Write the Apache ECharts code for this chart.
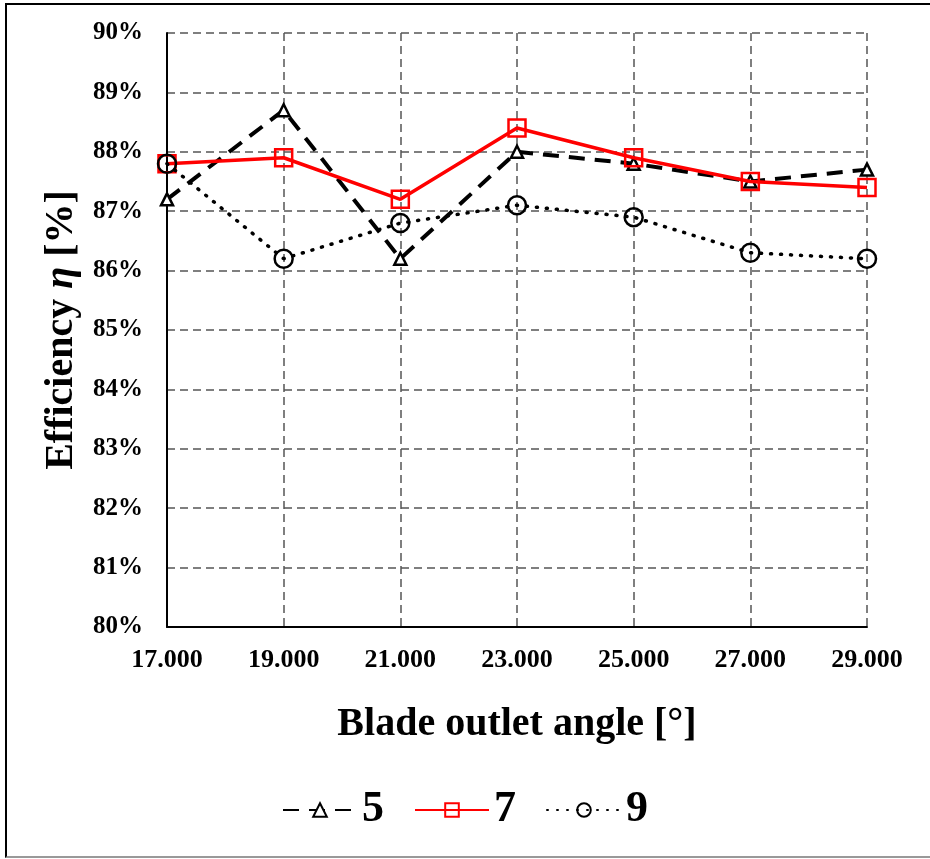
<!DOCTYPE html>
<html>
<head>
<meta charset="utf-8">
<script src="https://cdn.jsdelivr.net/npm/echarts@6/dist/echarts.min.js"></script>
<style>
  html, body { margin: 0; padding: 0; background: #fff; }
  #frame { position: absolute; left: 5px; top: 3px; width: 930px; height: 851px;
           border-left: 2px solid #000; border-top: 2px solid #000; border-bottom: 2px solid #999; }
  #chart { position: absolute; left: 0; top: 0; width: 930px; height: 859px; }
</style>
</head>
<body>
<div id="frame"></div>
<div id="chart"></div>
<script>
// blade outlet angle [deg]
var angles = [17, 19, 21, 23, 25, 27, 29];
// efficiency [%] per blade number
var eff5 = [87.2, 88.7, 86.2, 88.0, 87.8, 87.5, 87.7];
var eff7 = [87.8, 87.9, 87.2, 88.4, 87.9, 87.5, 87.4];
var eff9 = [87.8, 86.2, 86.8, 87.1, 86.9, 86.3, 86.2];
var seriesNames = ['5', '7', '9'];

var font = '"Liberation Serif", "Times New Roman", serif';

function pairs(vals) {
    return angles.map(function (a, i) { return [a, vals[i]]; });
}

var chart = echarts.init(document.getElementById('chart'));

var option = {
    backgroundColor: 'transparent',
    animation: false,
    grid: { left: 167, right: 63, top: 33, bottom: 232 },
    legend: {
        bottom: 22,
        left: 'center',
        itemWidth: 74,
        itemHeight: 17,
        itemGap: 30,
        textStyle: { fontFamily: font, fontSize: 44, fontWeight: 'bold', color: '#000' },
        data: seriesNames
    },
    xAxis: {
        type: 'value',
        min: 17,
        max: 29,
        interval: 2,
        name: 'Blade outlet angle [°]',
        nameLocation: 'middle',
        nameGap: 78,
        nameTextStyle: { fontFamily: font, fontSize: 40, fontWeight: 'bold', color: '#000' },
        axisLine: { lineStyle: { color: '#000', width: 2 } },
        axisTick: { show: false },
        axisLabel: {
            fontFamily: font, fontSize: 26, fontWeight: 'bold', color: '#000', margin: 20,
            formatter: function (v) { return v.toFixed(3); }
        },
        splitLine: { show: true, lineStyle: { color: '#555', type: [8, 5], width: 1.5 } }
    },
    yAxis: {
        type: 'value',
        min: 80,
        max: 90,
        interval: 1,
        name: '{b|Efficiency }{i|η}{b| [%]}',
        nameLocation: 'middle',
        nameGap: 84,
        nameTextStyle: {
            rich: {
                b: { fontFamily: font, fontSize: 40, fontWeight: 'bold', color: '#000' },
                i: { fontFamily: font, fontSize: 40, fontWeight: 'bold', fontStyle: 'italic', color: '#000' }
            }
        },
        axisLine: { show: true, lineStyle: { color: '#000', width: 2 } },
        axisTick: { show: false },
        axisLabel: {
            fontFamily: font, fontSize: 25, fontWeight: 'bold', color: '#000', margin: 24,
            formatter: function (v) { return v + '%'; }
        },
        splitLine: { show: true, lineStyle: { color: '#555', type: [8, 5], width: 1.5 } }
    },
    series: [
        {
            name: seriesNames[0],
            type: 'line',
            data: pairs(eff5),
            symbol: 'triangle',
            symbolSize: 12,
            lineStyle: { color: '#000', width: 4, type: [16, 10] },
            itemStyle: { color: '#fff', borderColor: '#000', borderWidth: 2.5 },
            z: 2
        },
        {
            name: seriesNames[1],
            type: 'line',
            data: pairs(eff7),
            symbol: 'rect',
            symbolSize: 17,
            lineStyle: { color: '#ff0000', width: 3.5 },
            itemStyle: { color: 'rgba(255,255,255,0)', borderColor: '#ff0000', borderWidth: 2.5 },
            z: 3
        },
        {
            name: seriesNames[2],
            type: 'line',
            data: pairs(eff9),
            symbol: 'circle',
            symbolSize: 18,
            lineStyle: { color: '#000', width: 3.5, type: [1, 9], cap: 'round' },
            itemStyle: { color: 'rgba(255,255,255,0)', borderColor: '#000', borderWidth: 2.5 },
            z: 4
        }
    ]
};

chart.setOption(option);
</script>
</body>
</html>
